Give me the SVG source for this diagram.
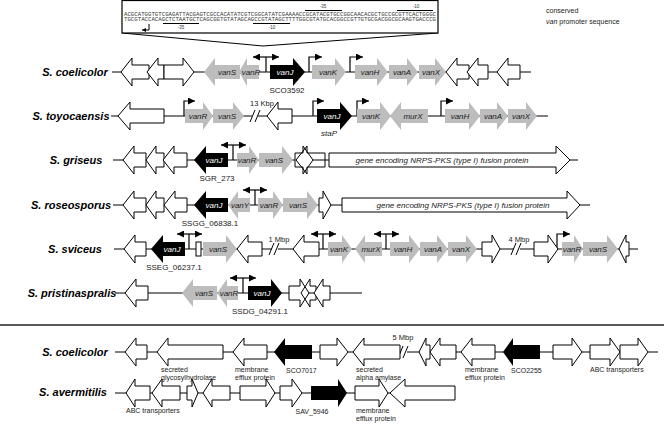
<svg xmlns="http://www.w3.org/2000/svg" width="664" height="426" viewBox="0 0 664 426">
<style>
.w{fill:#fff;stroke:#000;stroke-width:1}
.g{fill:#bdbdbd}
.b{fill:#000}
.ln{stroke:#000;stroke-width:1;fill:none}
.pr{stroke:#000;stroke-width:1.2;fill:none}
.sp{font-family:"Liberation Sans",Arial,sans-serif;font-size:11px;font-weight:bold;font-style:italic;text-anchor:middle;fill:#000}
.gl{font-family:"Liberation Sans",Arial,sans-serif;font-size:8px;font-style:italic;text-anchor:middle;fill:#1a1a1a}
.gw{fill:#fff}
.tag{font-family:"Liberation Sans",Arial,sans-serif;font-size:8px;text-anchor:middle;fill:#1a1a1a}
.lb{font-family:"Liberation Sans",Arial,sans-serif;font-size:7px;fill:#1a1a1a}
.nt{font-family:"Liberation Sans",Arial,sans-serif;font-size:7.5px;text-anchor:middle;fill:#1a1a1a}
.seq{font-family:"Liberation Mono","Courier New",monospace;font-size:4.8px;fill:#333}
.sm{font-family:"Liberation Sans",Arial,sans-serif;font-size:4.5px;text-anchor:middle;fill:#333}
</style>
<defs>
<marker id="ah" viewBox="0 0 10 10" refX="10" refY="5" markerWidth="7" markerHeight="7" markerUnits="userSpaceOnUse" orient="auto-start-reverse"><path d="M0,0 L10,5 L0,10 z" fill="#000"/></marker>
<marker id="ahs" viewBox="0 0 10 10" refX="10" refY="5" markerWidth="4" markerHeight="4" markerUnits="userSpaceOnUse" orient="auto-start-reverse"><path d="M0,0 L10,5 L0,10 z" fill="#000"/></marker>
</defs>

<!-- inset -->
<g id="inset">
<polyline class="ln" points="122,33 263,46 438,33"/>
<rect x="122" y="0.5" width="316" height="32.5" fill="#fff" stroke="#000" stroke-width="1.2"/>
<text class="seq" x="124" y="15.5" textLength="312" lengthAdjust="spacingAndGlyphs">ACGCATGGTGTCGAGATTACGAGTCGCCACATATCGTCGGCATATCGAAAACCGCATACGTGCCGGCAACACGCTGCCGCGTTCACTGGGC</text>
<text class="seq" x="124" y="20.8" textLength="312" lengthAdjust="spacingAndGlyphs">TGCGTACCACAGCTCTAATGCTCAGCGGTGTATAGCAGCCGTATAGCTTTTGGCGTATGCACGGCCGTTGTGCGACGGCGCAAGTGACCCG</text>
<line class="ln" x1="305" y1="10.5" x2="342" y2="10.5"/><text class="sm" x="323" y="8">-35</text>
<line class="ln" x1="397" y1="10.5" x2="433" y2="10.5"/><text class="sm" x="416" y="8">-10</text>
<line class="ln" x1="163" y1="23.5" x2="199" y2="23.5"/><text class="sm" x="181" y="29">-35</text>
<line class="ln" x1="253" y1="23.5" x2="290" y2="23.5"/><text class="sm" x="272" y="29">-10</text>
<path class="ln" d="M149,24 V30 H142" marker-end="url(#ahs)"/>
</g>
<text class="lb" x="546" y="13" font-size="8">conserved</text>
<text class="lb" x="546" y="24" font-size="8"><tspan font-style="italic">van</tspan> promoter sequence</text>

<!-- species labels -->
<g id="species">
<text class="sp" x="75" y="76">S. coelicolor</text>
<text class="sp" x="71" y="120">S. toyocaensis</text>
<text class="sp" x="76" y="164">S. griseus</text>
<text class="sp" x="71" y="209">S. roseosporus</text>
<text class="sp" x="75" y="253">S. sviceus</text>
<text class="sp" x="72" y="297">S. pristinaspralis</text>
<text class="sp" x="75" y="356">S. coelicolor</text>
<text class="sp" x="73" y="396">S. avermitilis</text>
</g>

<line x1="0" y1="325" x2="664" y2="325" stroke="#222" stroke-width="1.3"/>

<!-- connectors: backbones, promoters, breaks -->
<g id="connectors">
<line class="ln" x1="112" y1="72" x2="531" y2="72"/>
<line class="ln" x1="111" y1="116" x2="252" y2="116"/><line class="ln" x1="258" y1="116" x2="548" y2="116"/>
<line class="ln" x1="113" y1="160" x2="578" y2="160"/>
<line class="ln" x1="113" y1="205" x2="590" y2="205"/>
<line class="ln" x1="114" y1="249" x2="272" y2="249"/><line class="ln" x1="278" y1="249" x2="514" y2="249"/><line class="ln" x1="520" y1="249" x2="638" y2="249"/>
<line class="ln" x1="115" y1="293" x2="362" y2="293"/>
<line class="ln" x1="115" y1="352" x2="401" y2="352"/><line class="ln" x1="407" y1="352" x2="658" y2="352"/>
<line class="ln" x1="115" y1="393" x2="455" y2="393"/>
<!-- breaks -->
<path class="ln" d="M250,122 L255,110 M255,122 L260,110"/>
<path class="ln" d="M269,255 L274,243 M274,255 L279,243"/>
<path class="ln" d="M511,255 L516,243 M516,255 L521,243"/>
<path class="ln" d="M398,358 L403,346 M403,358 L408,346"/>
<!-- promoters row1 -->
<path class="pr" d="M266,72 V57"/><path class="pr" d="M253,57 H279" marker-start="url(#ah)" marker-end="url(#ah)"/>
<path class="pr" d="M309,72 V57 H322" marker-end="url(#ah)"/>
<path class="pr" d="M350,72 V57 H363" marker-end="url(#ah)"/>
<!-- row2 -->
<path class="pr" d="M184,116 V101 H195" marker-end="url(#ah)"/>
<path class="pr" d="M313,116 V101 H324" marker-end="url(#ah)"/>
<path class="pr" d="M357,116 V101 H369" marker-end="url(#ah)"/>
<path class="pr" d="M441,116 V101 H453" marker-end="url(#ah)"/>
<!-- row3 -->
<path class="pr" d="M233,160 V145"/><path class="pr" d="M221,145 H246" marker-start="url(#ah)" marker-end="url(#ah)"/>
<!-- row4 -->
<path class="pr" d="M255,205 V190"/><path class="pr" d="M243,190 H267" marker-start="url(#ah)" marker-end="url(#ah)"/>
<!-- row5 -->
<path class="pr" d="M189,249 V234"/><path class="pr" d="M177,234 H202" marker-start="url(#ah)" marker-end="url(#ah)"/>
<path class="pr" d="M323,249 V234"/><path class="pr" d="M311,234 H336" marker-start="url(#ah)" marker-end="url(#ah)"/>
<path class="pr" d="M386,249 V234"/><path class="pr" d="M374,234 H399" marker-start="url(#ah)" marker-end="url(#ah)"/>
<path class="pr" d="M557,249 V234 H570" marker-end="url(#ah)"/>
<!-- row6 -->
<path class="pr" d="M243,293 V278"/><path class="pr" d="M230,278 H256" marker-start="url(#ah)" marker-end="url(#ah)"/>
</g>
<text class="nt" x="262" y="106">13 Kbp</text>
<text class="nt" x="279" y="242">1 Mbp</text>
<text class="nt" x="519" y="242">4 Mbp</text>
<text class="nt" x="403" y="340">5 Mbp</text>

<!-- Row 1 S. coelicolor -->
<g id="r1">
<g id="r1w1"><polygon class="w" points="149,65 132,65 132,58 121,72 132,86 132,79 149,79"/></g>
<g id="r1w2"><polygon class="w" points="164,65 158,65 158,58 147,72 158,86 158,79 164,79"/></g>
<g id="r1w3"><polygon class="w" points="164,65 183,65 183,58 194,72 183,86 183,79 164,79"/></g>
<g id="r1vanS"><polygon class="g" points="240,65 215,65 215,58 204,72 215,86 215,79 240,79"/><text class="gl" x="227" y="75">vanS</text></g>
<g id="r1vanR"><polygon class="g" points="259,65 247,65 247,58 239,72 247,86 247,79 259,79"/><text class="gl" x="251" y="75">vanR</text></g>
<g id="r1vanJ"><polygon class="b" points="270,65 293,65 293,58 305,72 293,86 293,79 270,79"/><text class="gl gw" x="285" y="75">vanJ</text><text class="tag" x="287" y="93">SCO3592</text></g>
<g id="r1vanK"><polygon class="g" points="312,65 335,65 335,58 346,72 335,86 335,79 312,79"/><text class="gl" x="328" y="75">vanK</text></g>
<g id="r1vanH"><polygon class="g" points="355,65 377,65 377,58 388,72 377,86 377,79 355,79"/><text class="gl" x="370" y="75">vanH</text></g>
<g id="r1vanA"><polygon class="g" points="389,65 407,65 407,58 418,72 407,86 407,79 389,79"/><text class="gl" x="402" y="75">vanA</text></g>
<g id="r1vanX"><polygon class="g" points="419,65 435,65 435,58 446,72 435,86 435,79 419,79"/><text class="gl" x="431" y="75">vanX</text></g>
<g id="r1w4"><polygon class="w" points="469,65 457,65 457,58 446,72 457,86 457,79 469,79"/></g>
<g id="r1w5"><polygon class="w" points="488,65 478,65 478,58 467,72 478,86 478,79 488,79"/></g>
<g id="r1w6"><polygon class="w" points="520,65 508,65 508,58 497,72 508,86 508,79 520,79"/></g>
</g>

<!-- Row 2 S. toyocaensis -->
<g id="r2">
<g id="r2w1"><polygon class="w" points="164,109 130,109 130,102 118,116 130,130 130,123 164,123"/></g>
<g id="r2vanR"><polygon class="g" points="185,109 203,109 203,102 213,116 203,130 203,123 185,123"/><text class="gl" x="198" y="119">vanR</text></g>
<g id="r2vanS"><polygon class="g" points="213,109 233,109 233,102 244,116 233,130 233,123 213,123"/><text class="gl" x="227" y="119">vanS</text></g>
<g id="r2w2"><polygon class="w" points="292,109 278,109 278,102 267,116 278,130 278,123 292,123"/></g>
<g id="r2vanJ"><polygon class="b" points="317,109 340,109 340,102 352,116 340,130 340,123 317,123"/><text class="gl gw" x="332" y="119">vanJ</text><text class="tag" x="329" y="136" font-style="italic">staP</text></g>
<g id="r2vanK"><polygon class="g" points="357,109 380,109 380,102 391,116 380,130 380,123 357,123"/><text class="gl" x="371" y="119">vanK</text></g>
<g id="r2murX"><polygon class="g" points="428,109 401,109 401,102 390,116 401,130 401,123 428,123"/><text class="gl" x="413" y="119">murX</text></g>
<g id="r2vanH"><polygon class="g" points="445,109 469,109 469,102 480,116 469,130 469,123 445,123"/><text class="gl" x="460" y="119">vanH</text></g>
<g id="r2vanA"><polygon class="g" points="480,109 497,109 497,102 508,116 497,130 497,123 480,123"/><text class="gl" x="493" y="119">vanA</text></g>
<g id="r2vanX"><polygon class="g" points="508,109 526,109 526,102 537,116 526,130 526,123 508,123"/><text class="gl" x="521" y="119">vanX</text></g>
</g>

<!-- Row 3 S. griseus -->
<g id="r3">
<g id="r3w1"><polygon class="w" points="146,153 134,153 134,146 123,160 134,174 134,167 146,167"/></g>
<g id="r3w2"><polygon class="w" points="164,153 156,153 156,146 146,160 156,174 156,167 164,167"/></g>
<g id="r3w3"><polygon class="w" points="187,153 174,153 174,146 163,160 174,174 174,167 187,167"/></g>
<g id="r3vanJ"><polygon class="b" points="228,153 206,153 206,146 194,160 206,174 206,167 228,167"/><text class="gl gw" x="214" y="163">vanJ</text><text class="tag" x="217" y="181">SGR_273</text></g>
<g id="r3vanR"><polygon class="g" points="237,153 249,153 249,146 259,160 249,174 249,167 237,167"/><text class="gl" x="247" y="163">vanR</text></g>
<g id="r3vanS"><polygon class="g" points="259,153 282,153 282,146 293,160 282,174 282,167 259,167"/><text class="gl" x="274" y="163">vanS</text></g>
<g id="r3w4"><polygon class="w" points="295,153 303,153 303,146 313,160 303,174 303,167 295,167"/></g>
<g id="r3w5"><polygon class="w" points="325,153 307,153 307,146 296,160 307,174 307,167 325,167" fill-opacity="0"/></g>
<g id="r3nrps"><polygon class="w" points="329,153 556,153 556,146 570,160 556,174 556,167 329,167"/><text class="gl" x="442" y="163" font-size="7.6">gene encoding NRPS-PKS (type I) fusion protein</text></g>
</g>

<!-- Row 4 S. roseosporus -->
<g id="r4">
<g id="r4w1"><polygon class="w" points="146,198 134,198 134,191 123,205 134,219 134,212 146,212"/></g>
<g id="r4w2"><polygon class="w" points="164,198 156,198 156,191 146,205 156,219 156,212 164,212"/></g>
<g id="r4w3"><polygon class="w" points="187,198 175,198 175,191 164,205 175,219 175,212 187,212"/></g>
<g id="r4vanJ"><polygon class="b" points="228,198 206,198 206,191 194,205 206,219 206,212 228,212"/><text class="gl gw" x="214" y="208">vanJ</text><text class="tag" x="210" y="226">SSGG_06838.1</text></g>
<g id="r4vanY"><polygon class="g" points="250,198 238,198 238,191 228,205 238,219 238,212 250,212"/><text class="gl" x="240" y="208">vanY</text></g>
<g id="r4vanR"><polygon class="g" points="258,198 273,198 273,191 283,205 273,219 273,212 258,212"/><text class="gl" x="269" y="208">vanR</text></g>
<g id="r4vanS"><polygon class="g" points="283,198 307,198 307,191 318,205 307,219 307,212 283,212"/><text class="gl" x="298" y="208">vanS</text></g>
<g id="r4w4"><polygon class="w" points="319,198 323,198 323,191 331,205 323,219 323,212 319,212"/></g>
<g id="r4nrps"><polygon class="w" points="342,198 567,198 567,191 580,205 567,219 567,212 342,212"/><text class="gl" x="463" y="208" font-size="7.6">gene encoding NRPS-PKS (type I) fusion protein</text></g>
</g>

<!-- Row 5 S. sviceus -->
<g id="r5">
<g id="r5w1"><polygon class="w" points="146,242 135,242 135,235 124,249 135,263 135,256 146,256"/></g>
<g id="r5vanJ"><polygon class="b" points="185,242 163,242 163,235 151,249 163,263 163,256 185,256"/><text class="gl gw" x="172" y="252">vanJ</text><text class="tag" x="174" y="270">SSEG_06237.1</text></g>
<g id="r5box"><rect class="w" x="196" y="242" width="5" height="14"/></g>
<g id="r5vanS"><polygon class="g" points="203,242 226,242 226,235 237,249 226,263 226,256 203,256"/><text class="gl" x="218" y="252">vanS</text></g>
<g id="r5w2"><polygon class="w" points="262,242 248,242 248,235 237,249 248,263 248,256 262,256"/></g>
<g id="r5w3"><polygon class="w" points="319,242 304,242 304,235 293,249 304,263 304,256 319,256"/></g>
<g id="r5vanK"><polygon class="g" points="328,242 342,242 342,235 352,249 342,263 342,256 328,256"/><text class="gl" x="339" y="252">vanK</text></g>
<g id="r5murX"><polygon class="g" points="382,242 365,242 365,235 355,249 365,263 365,256 382,256"/><text class="gl" x="371" y="252">murX</text></g>
<g id="r5vanH"><polygon class="g" points="390,242 409,242 409,235 420,249 409,263 409,256 390,256"/><text class="gl" x="403" y="252">vanH</text></g>
<g id="r5vanA"><polygon class="g" points="420,242 437,242 437,235 448,249 437,263 437,256 420,256"/><text class="gl" x="433" y="252">vanA</text></g>
<g id="r5vanX"><polygon class="g" points="448,242 466,242 466,235 477,249 466,263 466,256 448,256"/><text class="gl" x="461" y="252">vanX</text></g>
<g id="r5w4"><polygon class="w" points="482,242 492,242 492,235 500,249 492,263 492,256 482,256"/></g>
<g id="r5w5"><polygon class="w" points="534,242 548,242 548,235 558,249 548,263 548,256 534,256"/></g>
<g id="r5vanR"><polygon class="g" points="562,242 574,242 574,235 583,249 574,263 574,256 562,256"/><text class="gl" x="572" y="252">vanR</text></g>
<g id="r5vanS2"><polygon class="g" points="583,242 607,242 607,235 618,249 607,263 607,256 583,256"/><text class="gl" x="598" y="252">vanS</text></g>
<g id="r5w6"><polygon class="w" points="629,242 626,242 626,235 619,249 626,263 626,256 629,256"/></g>
</g>

<!-- Row 6 S. pristinaspralis -->
<g id="r6">
<g id="r6w1"><polygon class="w" points="148,286 136,286 136,279 125,293 136,307 136,300 148,300"/></g>
<g id="r6vanS"><polygon class="g" points="217,286 193,286 193,279 182,293 193,307 193,300 217,300"/><text class="gl" x="204" y="296">vanS</text></g>
<g id="r6vanR"><polygon class="g" points="238,286 227,286 227,279 217,293 227,307 227,300 238,300"/><text class="gl" x="229" y="296">vanR</text></g>
<g id="r6vanJ"><polygon class="b" points="248,286 271,286 271,279 282,293 271,307 271,300 248,300"/><text class="gl gw" x="262" y="296">vanJ</text><text class="tag" x="260" y="314">SSDG_04291.1</text></g>
<g id="r6w2"><polygon class="w" points="289,286 300,286 300,279 309,293 300,307 300,300 289,300"/></g>
<g id="r6w3"><polygon class="w" points="316,286 310,286 310,279 301,293 310,307 310,300 316,300" fill-opacity="0"/></g>
<g id="r6w4"><polygon class="w" points="330,286 323,286 323,279 314,293 323,307 323,300 330,300"/></g>
</g>

<!-- Row 7 S. coelicolor -->
<g id="r7">
<g id="r7w1"><polygon class="w" points="147,345 136,345 136,338 125,352 136,366 136,359 147,359"/></g>
<g id="r7w2"><polygon class="w" points="223,345 168,345 168,338 157,352 168,366 168,359 223,359"/><text class="lb" x="161" y="372">secreted</text><text class="lb" x="161" y="379.5">glycosylhydrolase</text></g>
<g id="r7w3"><polygon class="w" points="267,345 244,345 244,338 233,352 244,366 244,359 267,359"/><text class="lb" x="235" y="372">membrane</text><text class="lb" x="235" y="379.5">efflux protein</text></g>
<g id="r7sco7017"><polygon class="b" points="312,345 285,345 285,338 274,352 285,366 285,359 312,359"/><text class="lb" x="286" y="373" font-size="8">SCO7017</text></g>
<g id="r7w4"><polygon class="w" points="320,345 337,345 337,338 348,352 337,366 337,359 320,359"/></g>
<g id="r7w5"><polygon class="w" points="400,345 364,345 364,338 353,352 364,366 364,359 400,359"/><text class="lb" x="356" y="372">secreted</text><text class="lb" x="356" y="379.5">alpha amylase</text></g>
<g id="r7w6"><polygon class="w" points="430,345 426,345 426,338 419,352 426,366 426,359 430,359"/></g>
<g id="r7w7"><polygon class="w" points="456,345 440,345 440,338 430,352 440,366 440,359 456,359"/></g>
<g id="r7w8"><polygon class="w" points="495,345 472,345 472,338 461,352 472,366 472,359 495,359"/><text class="lb" x="465" y="372">membrane</text><text class="lb" x="465" y="379.5">efflux protein</text></g>
<g id="r7sco2255"><polygon class="b" points="540,345 513,345 513,338 503,352 513,366 513,359 540,359"/><text class="lb" x="511" y="373" font-size="8">SCO2255</text></g>
<g id="r7w9"><polygon class="w" points="553,345 572,345 572,338 582,352 572,366 572,359 553,359"/></g>
<g id="r7w10"><polygon class="w" points="590,345 610,345 610,338 620,352 610,366 610,359 590,359"/><text class="lb" x="590" y="372" font-size="7.5">ABC transporters</text></g>
<g id="r7w11"><polygon class="w" points="620,345 638,345 638,338 648,352 638,366 638,359 620,359"/></g>
</g>

<!-- Row 8 S. avermitilis -->
<g id="r8">
<g id="r8w1"><polygon class="w" points="150,386 135,386 135,379 126,393 135,407 135,400 150,400"/><text class="lb" x="126" y="413" font-size="7.5">ABC transporters</text></g>
<g id="r8w2"><polygon class="w" points="180,386 162,386 162,379 152,393 162,407 162,400 180,400"/></g>
<g id="r8w3"><polygon class="w" points="187,386 192,386 192,379 198,393 192,407 192,400 187,400"/></g>
<g id="r8w4"><polygon class="w" points="230,386 212,386 212,379 203,393 212,407 212,400 230,400"/></g>
<g id="r8w5"><polygon class="w" points="240,386 266,386 266,379 275,393 266,407 266,400 240,400"/></g>
<g id="r8w6"><polygon class="w" points="280,386 292,386 292,379 302,393 292,407 292,400 280,400"/></g>
<g id="r8sav"><polygon class="b" points="311,386 338,386 338,379 347,393 338,407 338,400 311,400"/><text class="lb" x="312" y="414" font-size="8" text-anchor="middle">SAV_5946</text></g>
<g id="r8w7"><polygon class="w" points="355,386 379,386 379,379 388,393 379,407 379,400 355,400"/><text class="lb" x="356" y="413">membrane</text><text class="lb" x="356" y="420.5">efflux protein</text></g>
<g id="r8w8"><polygon class="w" points="455,386 405,386 405,379 390,393 405,407 405,400 455,400"/></g>
</g>
</svg>
